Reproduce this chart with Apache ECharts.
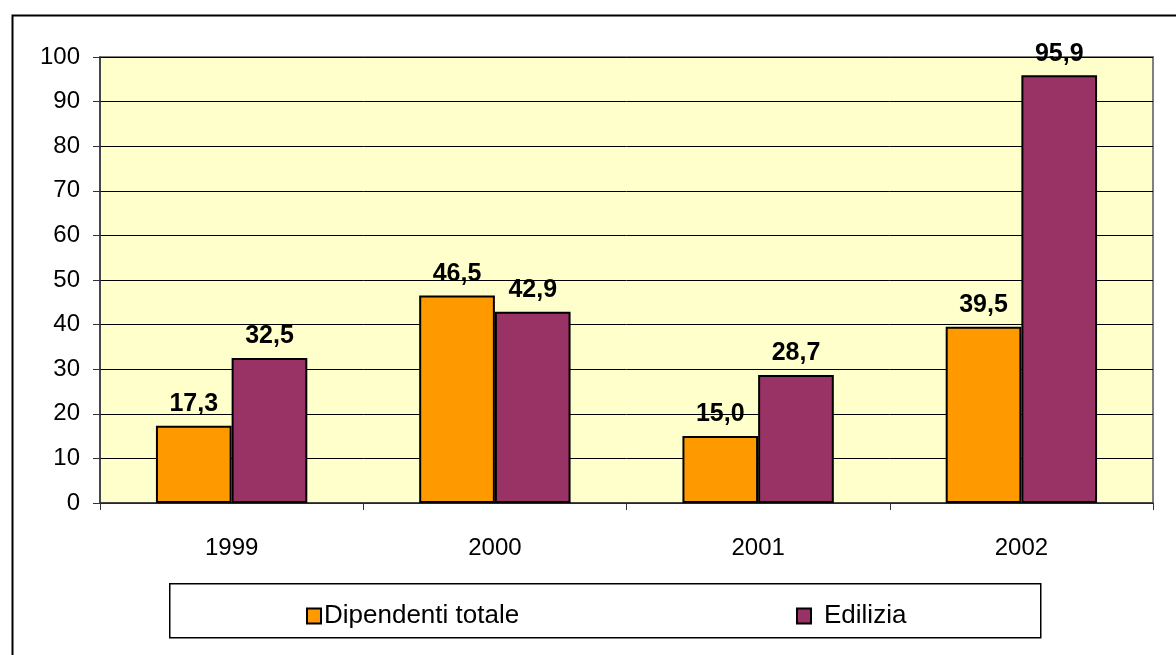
<!DOCTYPE html>
<html>
<head>
<meta charset="utf-8">
<script src="https://cdn.jsdelivr.net/npm/echarts@6/dist/echarts.min.js"></script>
<style>
html,body{margin:0;padding:0;background:#fff;}
#chart{width:1176px;height:655px;}
</style>
</head>
<body>
<div id="chart"></div>
<script>
const categories = ['1999', '2000', '2001', '2002'];
const dipendentiTotale = [17.3, 46.5, 15.0, 39.5];
const edilizia = [32.5, 42.9, 28.7, 95.9];
const seriesNames = ['Dipendenti totale', 'Edilizia'];

const FONT = '"Liberation Sans", Arial, sans-serif';
const chart = echarts.init(document.getElementById('chart'));

const fmt = p => p.value.toFixed(1).replace('.', ',');
const barLabel = {
  show: true, position: 'top', distance: 9,
  formatter: fmt, color: '#000', fontFamily: FONT, fontWeight: 'bold', fontSize: 25
};

chart.setOption({
  backgroundColor: '#fff',
  animation: false,
  graphic: [
    { type: 'rect', left: 10, top: 13, shape: { width: 1300, height: 800 }, style: { fill: 'none', stroke: '#000', lineWidth: 2 }, z: 0 },
    { type: 'rect', left: 169, top: 583, shape: { width: 871, height: 54 }, style: { fill: '#fff', stroke: '#000', lineWidth: 1.5 }, z: 0 }
  ],
  grid: {
    left: 100, right: 23, top: 57, height: 446,
    show: true, backgroundColor: '#FFFFCC', borderColor: '#808080', borderWidth: 2
  },
  legend: [
    { data: [seriesNames[0]], icon: 'rect', left: 301, top: 598, itemWidth: 14, itemHeight: 15, itemGap: 0,
      textStyle: { fontFamily: FONT, fontSize: 26, color: '#000', padding: [0, 0, 0, -2] } },
    { data: [seriesNames[1]], icon: 'rect', left: 791, top: 598, itemWidth: 14, itemHeight: 15, itemGap: 0,
      textStyle: { fontFamily: FONT, fontSize: 26, color: '#000', padding: [0, 0, 0, 8] } }
  ],
  xAxis: {
    type: 'category', data: categories, boundaryGap: true,
    axisLine: { lineStyle: { color: '#333', width: 1.5 } },
    axisTick: { show: true, length: 7, lineStyle: { color: '#333' } },
    axisLabel: { margin: 33, fontFamily: FONT, fontSize: 24, color: '#000' }
  },
  yAxis: {
    type: 'value', min: 0, max: 100, interval: 10,
    axisLine: { show: true, lineStyle: { color: '#333', width: 1.5 } },
    axisTick: { show: true, length: 7, lineStyle: { color: '#333' } },
    axisLabel: { margin: 20, fontFamily: FONT, fontSize: 24, color: '#000' },
    splitLine: { show: true, lineStyle: { color: '#000', width: 1 } }
  },
  series: [
    { name: seriesNames[0], type: 'bar', data: dipendentiTotale, barGap: '0%', barCategoryGap: '42.5%',
      itemStyle: { color: '#FF9900', borderColor: '#000', borderWidth: 2 }, label: barLabel },
    { name: seriesNames[1], type: 'bar', data: edilizia, barGap: '0%', barCategoryGap: '42.5%',
      itemStyle: { color: '#993366', borderColor: '#000', borderWidth: 2 }, label: barLabel }
  ]
});
</script>
</body>
</html>
